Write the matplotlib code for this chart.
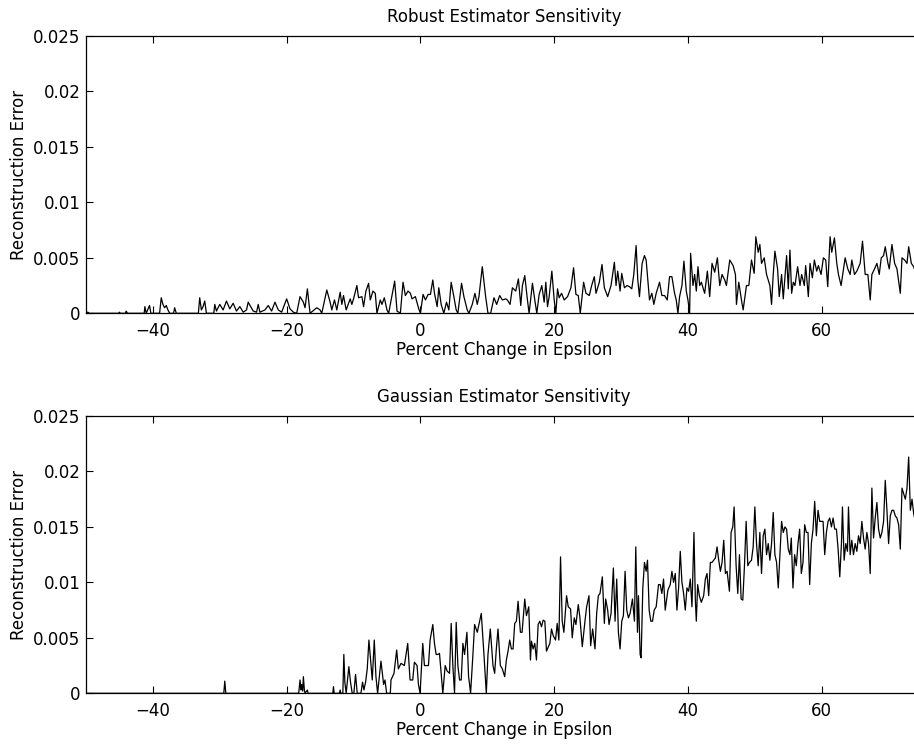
import matplotlib
matplotlib.use("Agg")
import matplotlib.pyplot as plt

plt.rcParams['font.family'] = ['DejaVu Sans']

# values (percent change, reconstruction error)
robust_x = [
    -50, -49.75, -49.5, -45.1, -45, -44.9, -44.1, -44, -43.8,
    -41.3, -41.2, -41, -40.5, -40.3, -39, -38.75, -38.5, -38.25, -38, -37.75, -37.5,
    -36.9, -36.75, -36.5, -33.2, -33, -32.75, -32.5, -32.25, -32,
    -30.9, -30.75, -30.5, -30, -29.5, -29, -28.5, -28, -27.5, -27, -26.5, -26, -25.75,
    -25, -24.5, -24.25, -24, -23.25, -22.75, -22.25, -21.75, -21.25, -20.75, -20,
    -19.5, -19, -18.5, -18, -17.5, -17.25, -16.9, -16.5, -15.5, -15, -14.75,
    -14, -13.5, -13.25, -12.85, -12.5, -12, -11.75, -11.5, -11.1, -10.5, -10.25, -10,
    -9.5, -9.25, -8.75, -8.5, -8.15, -7.75, -7.5, -7.1, -6.75, -6.5, -6, -5.75, -5.4,
    -5, -4.75, -3.85, -3.5, -3, -2.6, -2.25, -1.85, -1.5, -1.25, -0.75, -0.25, 0,
    0.4, 0.75, 1.15, 1.5, 1.85, 2.1, 2.5, 2.75, 3.1, 3.5, 3.9, 4.25, 4.6, 5, 5.35, 5.6,
    6.15, 6.5, 7, 7.25, 7.75, 8.15, 8.5, 8.75, 9.25, 9.75, 10.1, 10.5, 11, 11.4, 11.85,
    12.25, 12.75, 13, 13.4, 13.75, 14.25, 14.65, 15, 15.25, 15.6, 16, 16.25, 16.75,
    17.1, 17.4, 17.75, 18.15, 18.5, 18.75, 19, 19.25, 19.65, 20, 20.25, 20.5, 20.75,
    21.1, 21.5, 22, 22.5, 22.9, 23.25, 23.6, 23.9, 24.4, 24.75, 25.25, 25.6, 26, 26.25,
    26.75, 27.15, 27.5, 28, 28.5, 29, 29.25, 29.5, 29.85, 30.1, 30.5, 30.9, 31.25, 31.6,
    31.9, 32.25, 32.5, 32.75, 33.15, 33.5, 33.75, 34, 34.25, 34.6, 34.9, 35.25, 35.75,
    36.1, 36.5, 36.9, 37.25, 37.6, 38, 38.25, 38.5, 38.75, 39.1, 39.4, 39.75, 40, 40.25,
    40.4, 40.75, 41, 41.25, 41.5, 41.75, 42, 42.5, 42.9, 43.25, 43.6, 44, 44.4,
    44.75, 45.1, 45.5, 45.75, 46.25, 46.75, 47.1, 47.25, 47.6, 48, 48.25, 48.75, 49.1,
    49.5, 49.9, 50.15, 50.5, 50.75, 51, 51.4, 51.75, 52.25, 52.5, 52.75, 53, 53.4,
    53.65, 54, 54.25, 54.75, 55, 55.25, 55.5, 55.75, 56, 56.4, 56.75, 57, 57.4, 57.6,
    58, 58.25, 58.6, 58.9, 59.25, 59.5, 59.9, 60.25, 60.6, 60.9, 61.25, 61.5, 61.9,
    62.25, 62.5, 62.9, 63.25, 63.5, 63.9, 64.25, 64.5, 64.9, 65.25, 65.75, 66.1, 66.5,
    66.9, 67.25, 67.5, 67.9, 68.25, 68.6, 68.9, 69.25, 69.5, 69.9, 70.1, 70.5, 70.9,
    71.25, 71.75, 72, 72.4, 72.75, 73, 73.4, 73.75, 74.1, 74.3, 75,
]
robust_y = [
    0, 0.0001, 0, 0, 0.0001, 0, 0, 0.0002, 0,
    0, 0.0006, 0, 0.0007, 0, 0, 0.0014, 0.0008, 0.0005, 0.0007, 0.0003, 0,
    0, 0.0005, 0, 0, 0.0014, 0.0003, 0.0006, 0.0011, 0,
    0, 0.0008, 0.0002, 0.0008, 0.0003, 0.0011, 0.0004, 0.0009, 0.0002, 0.0006, 0.0001, 0.0003, 0.001,
    0.0002, 0.0001, 0.0008, 0.0001, 0.0003, 0.0007, 0.0002, 0.001, 0.0003, 0.0001, 0.0013,
    0.0004, 0.0001, 0, 0.0015, 0.001, 0.0005, 0.0022, 0, 0.0005, 0.0003, 0,
    0.0021, 0.001, 0.0003, 0.0012, 0.0003, 0.0019, 0.0008, 0.0016, 0.0003, 0.0013, 0.0008, 0.0013,
    0.0025, 0.0014, 0.0015, 0.0006, 0.002, 0.0027, 0.0012, 0.002, 0.0018, 0, 0.0012, 0.0008, 0.0014,
    0.0003, 0, 0.0029, 0.0002, 0, 0.0028, 0.0016, 0.002, 0.0018, 0.0013, 0.0015, 0.0004, 0,
    0.0017, 0.0012, 0.0017, 0.0017, 0.003, 0.0018, 0.0006, 0.0023, 0.0008, 0, 0.001, 0.0003, 0.0028, 0.0015, 0.0003, 0,
    0.0027, 0.0015, 0.0003, 0, 0.0008, 0.0018, 0.0008, 0.0015, 0.0042, 0.0015, 0, 0, 0.0014, 0.0008, 0.0016,
    0.0012, 0.0013, 0.0012, 0.0008, 0.0023, 0.002, 0.0031, 0.0007, 0.0025, 0.0034, 0.0012, 0, 0.0027,
    0.0012, 0, 0.0017, 0.0025, 0.001, 0.0028, 0.0006, 0.0015, 0.0038, 0.0012, 0, 0.0022, 0.0014,
    0.0018, 0.0012, 0.0015, 0.0023, 0.0041, 0.0017, 0.0016, 0, 0.0028, 0.0018, 0.0016, 0.0025, 0.0033, 0.0018,
    0.0028, 0.0044, 0.0023, 0.0015, 0.0025, 0.0046, 0.0025, 0.0038, 0.002, 0.0036, 0.0023, 0.0025, 0.0024, 0.0022,
    0.0035, 0.0061, 0.003, 0.0015, 0.0045, 0.0052, 0.0048, 0.003, 0.0012, 0.0018, 0.0008, 0.0018, 0.0028,
    0.0016, 0.0016, 0.0012, 0.0033, 0.0033, 0.0018, 0.0012, 0, 0.0015, 0.0025, 0.0047, 0.002, 0.0012, 0,
    0.0054, 0.0025, 0.0035, 0.002, 0.0042, 0.0025, 0.0028, 0.0018, 0.0038, 0.0015, 0.0045, 0.0037, 0.005,
    0.0025, 0.0035, 0.003, 0.0025, 0.0048, 0.0043, 0.0035, 0.0008, 0.0028, 0.0012, 0.0003, 0.0025, 0.0025,
    0.0048, 0.0036, 0.0069, 0.0055, 0.0062, 0.0045, 0.005, 0.0035, 0.0025, 0.0008, 0.0035, 0.0056, 0.004,
    0.0015, 0.0035, 0.0013, 0.0052, 0.0022, 0.0057, 0.0018, 0.0028, 0.0025, 0.0042, 0.0025, 0.0035, 0.0025, 0.0043,
    0.0015, 0.0045, 0.0032, 0.0048, 0.0038, 0.0043, 0.0035, 0.005, 0.0048, 0.0024, 0.0069, 0.0055, 0.0068,
    0.0045, 0.0035, 0.0025, 0.004, 0.005, 0.004, 0.0035, 0.0048, 0.0035, 0.0038, 0.0045, 0.0065, 0.0035,
    0.0035, 0.0012, 0.0035, 0.004, 0.0045, 0.0035, 0.005, 0.0052, 0.006, 0.0045, 0.004, 0.0062, 0.0045,
    0.004, 0.0018, 0.005, 0.0048, 0.0045, 0.006, 0.0045, 0.0042, 0.0035, 0.0065, 0.0045,
]

gauss_x = [
    -50, -29.4, -29.25, -29.1, -18.2, -18, -17.85, -17.75, -17.6, -17.5, -17.35, -17.25,
    -16.9, -16.8, -13.1, -13, -12.9, -12.1, -12, -11.9, -11.6, -11.45, -11.3, -11.1,
    -10.7, -10.45, -10.2, -9.95, -9.7, -9.45, -8.9, -8.65, -8.45, -8.2, -7.95, -7.7,
    -7.45, -7.2, -6.9, -6.65, -6.4, -6.15, -5.9, -5.5, -5.3, -5.05, -4.5, -4.4, -3.95,
    -3.55, -3.3, -2.9, -2.4, -1.9, -1.55, -1.15, -0.9, -0.5, -0.3, -0.05, 0.35, 0.6,
    0.85, 1.2, 1.45, 1.85, 2.1, 2.35, 2.6, 2.85, 3.1, 3.35, 3.7, 4, 4.35, 4.6, 4.85,
    5.1, 5.35, 5.6, 5.85, 6.1, 6.35, 6.6, 6.95, 7.2, 7.35, 7.5, 7.85, 8.1, 8.5, 8.85,
    9.1, 9.5, 9.85, 10.1, 10.45, 10.85, 11.1, 11.35, 11.6, 11.95, 12.25, 12.6, 12.85,
    13.1, 13.35, 13.6, 13.85, 14.1, 14.35, 14.6, 14.95, 15.2, 15.6, 15.85, 16.2, 16.45,
    16.6, 16.85, 17.1, 17.35, 17.6, 17.85, 18.1, 18.35, 18.6, 18.85, 19.35, 19.6, 19.85,
    20.2, 20.45, 20.7, 20.95, 21.2, 21.45, 21.85, 22.1, 22.45, 22.7, 23, 23.25, 23.6,
    23.85, 24.2, 24.6, 24.85, 25.2, 25.45, 25.75, 26.1, 26.35, 26.6, 26.85, 27.2, 27.5,
    27.7, 28, 28.2, 28.5, 28.85, 29.1, 29.35, 29.6, 29.85, 30.1, 30.35, 30.6, 30.85,
    31.1, 31.35, 31.7, 32, 32.2, 32.45, 32.6, 32.85, 33, 33.25, 33.5, 33.75, 33.95,
    34.2, 34.45, 34.7, 34.95, 35.25, 35.6, 35.85, 36.1, 36.35, 36.6, 37, 37.35, 37.6,
    37.85, 38.1, 38.35, 38.6, 38.85, 39.1, 39.35, 39.6, 39.85, 40.1, 40.35, 40.6, 40.9,
    41.1, 41.25, 41.45, 41.7, 42, 42.35, 42.6, 42.85, 43.1, 43.35, 43.6, 43.85, 44.1,
    44.35, 44.6, 44.85, 45.1, 45.35, 45.6, 45.85, 46.2, 46.45, 46.7, 46.9, 47.2, 47.45,
    47.7, 47.95, 48.2, 48.45, 48.7, 48.95, 49.2, 49.5, 49.75, 50, 50.25, 50.5, 50.75,
    51, 51.25, 51.5, 51.75, 52, 52.25, 52.5, 52.75, 53, 53.25, 53.5, 53.75, 54, 54.25,
    54.5, 54.75, 55, 55.25, 55.45, 55.7, 55.95, 56.2, 56.45, 56.7, 56.95, 57.2, 57.45,
    57.7, 57.95, 58.2, 58.45, 58.7, 58.95, 59.2, 59.45, 59.7, 59.95, 60.2, 60.45, 60.7,
    60.95, 61.2, 61.45, 61.7, 61.95, 62.2, 62.45, 62.7, 62.95, 63.1, 63.35, 63.6, 63.85,
    64, 64.25, 64.5, 64.75, 65, 65.25, 65.5, 65.75, 66, 66.25, 66.5, 66.75, 67, 67.25,
    67.5, 67.75, 68, 68.25, 68.5, 68.75, 69, 69.25, 69.5, 69.75, 70, 70.25, 70.5, 70.75,
    71, 71.25, 71.5, 71.75, 72, 72.25, 72.5, 72.75, 73, 73.25, 73.5, 73.75, 74, 74.2,
    74.5, 75,
]
gauss_y = [
    0, 0, 0.0011, 0, 0, 0.0012, 0.0003, 0.0008, 0.0002, 0.0015, 0.0003, 0,
    0.0003, 0, 0, 0.0006, 0, 0, 0.0003, 0, 0, 0.0035, 0.001, 0,
    0.0024, 0.001, 0, 0, 0.0017, 0, 0, 0.001, 0.0003, 0.001, 0.0022, 0.0048,
    0.003, 0.0012, 0.0048, 0.0015, 0, 0.0015, 0.0029, 0.0008, 0.0012, 0, 0, 0.0012, 0.0018,
    0.0039, 0.0022, 0.0027, 0.0025, 0.0045, 0.0012, 0.0012, 0.0028, 0.0025, 0.0008, 0, 0.0045, 0.0025,
    0.0025, 0.0025, 0.0048, 0.0062, 0.0045, 0.0035, 0.0035, 0.0036, 0.0018, 0, 0.0025, 0.002, 0.0018, 0.0063, 0.0025,
    0, 0.0064, 0.0025, 0.0012, 0.0012, 0.0045, 0.0035, 0.0055, 0.0015, 0.0008, 0, 0.0035, 0.0062, 0.0055, 0.0065,
    0.0072, 0.0035, 0, 0.0035, 0.0058, 0.0025, 0.0018, 0.004, 0.0058, 0.0025, 0.0022, 0.0015, 0.003,
    0.0038, 0.0048, 0.004, 0.004, 0.0063, 0.0065, 0.0083, 0.0055, 0.0055, 0.0085, 0.007, 0.0078, 0.003,
    0.0047, 0.004, 0.0045, 0.003, 0.0062, 0.0065, 0.006, 0.0066, 0.0065, 0.0038, 0.0045, 0.0058, 0.0052,
    0.0048, 0.0063, 0.0048, 0.0123, 0.0065, 0.0055, 0.0088, 0.0078, 0.0076, 0.005, 0.0068, 0.0062, 0.008,
    0.0068, 0.0042, 0.0065, 0.0078, 0.0088, 0.0043, 0.0058, 0.004, 0.0072, 0.0088, 0.009, 0.0105, 0.0063,
    0.0085, 0.0075, 0.0062, 0.0072, 0.0113, 0.0065, 0.0103, 0.0055, 0.004, 0.0065, 0.007, 0.011, 0.0075,
    0.0068, 0.0072, 0.0085, 0.0065, 0.0132, 0.0055, 0.0088, 0.0035, 0.0032, 0.0095, 0.0118, 0.011, 0.012,
    0.0075, 0.0065, 0.0065, 0.0075, 0.0078, 0.0098, 0.0098, 0.009, 0.0103, 0.0075, 0.0093, 0.0098, 0.011,
    0.01, 0.0108, 0.0075, 0.0095, 0.0128, 0.01, 0.009, 0.0075, 0.0095, 0.0092, 0.0103, 0.0078, 0.0145,
    0.0085, 0.0065, 0.0098, 0.0088, 0.0082, 0.0088, 0.0103, 0.0108, 0.0088, 0.0118, 0.0118, 0.012, 0.0122,
    0.0132, 0.012, 0.011, 0.0118, 0.0138, 0.0108, 0.011, 0.0092, 0.0145, 0.015, 0.0168, 0.0115, 0.009,
    0.0125, 0.0085, 0.0084, 0.0115, 0.0155, 0.0115, 0.0118, 0.012, 0.0132, 0.0168, 0.0135, 0.0115, 0.0145,
    0.0108, 0.0142, 0.0148, 0.0125, 0.0135, 0.012, 0.0135, 0.0163, 0.0125, 0.0118, 0.0095, 0.0125, 0.0155, 0.0145,
    0.015, 0.0148, 0.013, 0.0125, 0.014, 0.0095, 0.0125, 0.0115, 0.0135, 0.0148, 0.0108, 0.0118, 0.0152,
    0.0145, 0.0145, 0.0098, 0.0135, 0.0148, 0.0173, 0.0142, 0.0165, 0.0155, 0.0155, 0.0155, 0.0125, 0.0145,
    0.0155, 0.0158, 0.015, 0.0158, 0.0148, 0.0148, 0.013, 0.0105, 0.0135, 0.0168, 0.012, 0.0135, 0.0128,
    0.0168, 0.0125, 0.0138, 0.0125, 0.0135, 0.0128, 0.0142, 0.0135, 0.0155, 0.014, 0.013, 0.0145, 0.0135, 0.0108,
    0.0185, 0.014, 0.0158, 0.0172, 0.0148, 0.014, 0.0145, 0.0155, 0.0192, 0.0165, 0.0135, 0.016, 0.0165, 0.0165,
    0.016, 0.0158, 0.0152, 0.013, 0.0185, 0.018, 0.0175, 0.0185, 0.0213, 0.0165, 0.0175, 0.0162, 0.0155, 0.0185,
    0.02, 0.017,
]

titles = ['Robust Estimator Sensitivity', 'Gaussian Estimator Sensitivity']
xticks = [-40, -20, 0, 20, 40, 60]
yticks = [0, 0.005, 0.01, 0.015, 0.02, 0.025]
ytick_labels = ['0', '0.005', '0.01', '0.015', '0.02', '0.025']

fig = plt.figure(figsize=(9.14, 7.45), dpi=100)
ax_top = fig.add_axes([0.0941, 0.5795, 0.9147, 0.3722])
ax_bot = fig.add_axes([0.0941, 0.0694, 0.9147, 0.3722])

for ax, xs, ys, title in [(ax_top, robust_x, robust_y, titles[0]),
                          (ax_bot, gauss_x, gauss_y, titles[1])]:
    ax.plot(xs, ys, color='black', linewidth=0.9)
    ax.set_xlim(-50, 75)
    ax.set_ylim(0, 0.025)
    ax.set_xticks(xticks)
    ax.set_yticks(yticks)
    ax.set_yticklabels(ytick_labels)
    ax.tick_params(direction='in', top=True, right=True, length=5,
                   labelsize=12, width=0.8)
    ax.tick_params(axis='x', pad=6)
    ax.tick_params(axis='y', pad=4)
    ax.set_title(title, fontsize=12, pad=10)
    ax.set_xlabel('Percent Change in Epsilon', fontsize=12, labelpad=1)
    ax.set_ylabel('Reconstruction Error', fontsize=12, labelpad=4)
    for sp in ax.spines.values():
        sp.set_linewidth(0.9)

fig.savefig('out.png', dpi=100)
